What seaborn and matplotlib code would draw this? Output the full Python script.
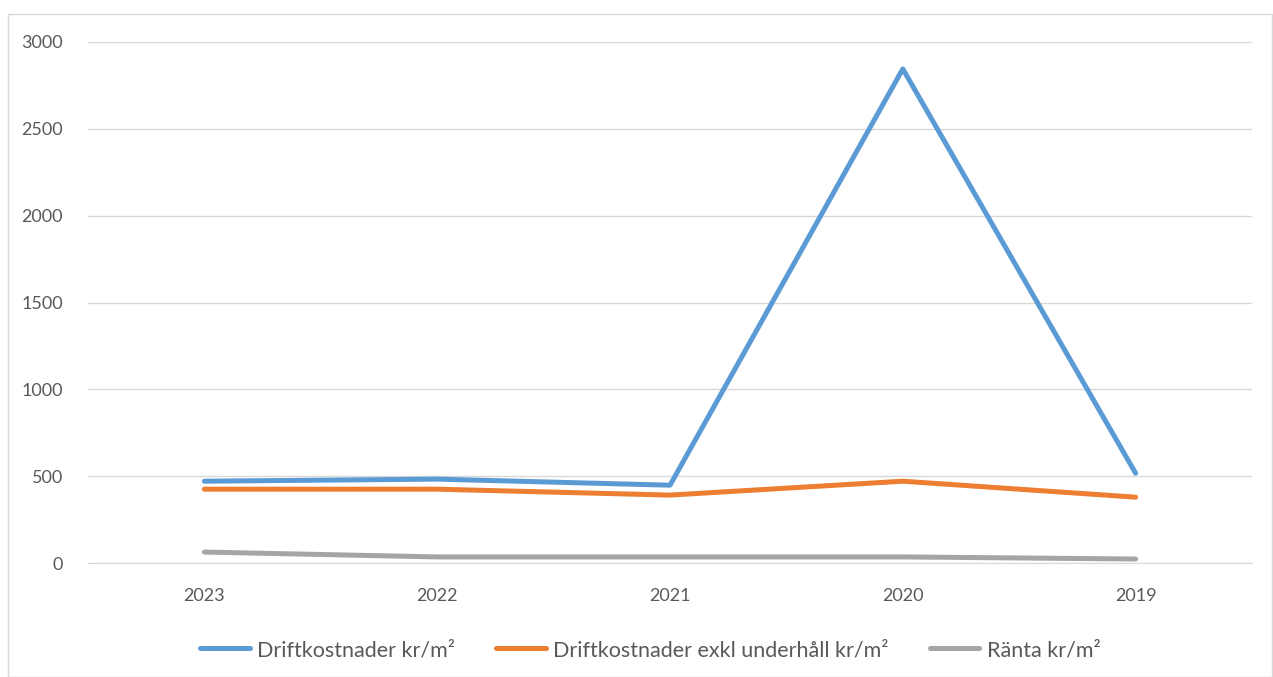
import pandas as pd
import numpy as np
import matplotlib
matplotlib.use("Agg")
import matplotlib.pyplot as plt
import seaborn as sns

sns.set_style("white")
plt.rcParams['font.family'] = ['Lato', 'DejaVu Sans']

# data
years = ['2023', '2022', '2021', '2020', '2019']
drift = [471, 483, 448, 2845, 517]
drift_exkl = [425, 425, 391, 471, 379]
ranta = [63, 35, 35, 35, 23]

series = ['Driftkostnader kr/m²', 'Driftkostnader exkl underhåll kr/m²', 'Ränta kr/m²']
colors = ['#5b9bd5', '#ed7d31', '#a5a5a5']

df = pd.DataFrame({
    'year': years * 3,
    'value': drift + drift_exkl + ranta,
    'serie': np.repeat(series, len(years)),
})

fig = plt.figure(figsize=(12.73, 6.77), dpi=100)
ax = fig.add_axes([88 / 1273, (677 - 563) / 677, (1252 - 88) / 1273, (563 - 42) / 677])

sns.lineplot(data=df, x='year', y='value', hue='serie', palette=colors,
             linewidth=3.6, ax=ax, sort=False)

ax.set_xlim(-0.5, len(years) - 0.5)
ax.set_ylim(0, 3000)
ax.set_yticks(range(0, 3001, 500))
ax.yaxis.grid(True, color='#d9d9d9', linewidth=1)
ax.set_axisbelow(True)
for s in ['top', 'right', 'left']:
    ax.spines[s].set_visible(False)
ax.spines['bottom'].set_color('#d9d9d9')
ax.tick_params(axis='both', length=0, labelsize=13, colors='#595959')
ax.tick_params(axis='x', pad=18)
ax.tick_params(axis='y', pad=18)
ax.set_xlabel('')
ax.set_ylabel('')

leg = ax.legend(loc='center', bbox_to_anchor=(0.483, -0.167), ncol=3, frameon=False,
                fontsize=15.5, handlelength=2.3, columnspacing=1.9, handletextpad=0.35)
for t in leg.get_texts():
    t.set_color('#595959')

# chart border
fig.patches.append(plt.Rectangle((8 / 1273, 0), 1 - 9 / 1273, 1 - 14 / 677,
                                 transform=fig.transFigure, fill=False,
                                 edgecolor='#d9d9d9', linewidth=1))

fig.savefig('out.png', dpi=100)
